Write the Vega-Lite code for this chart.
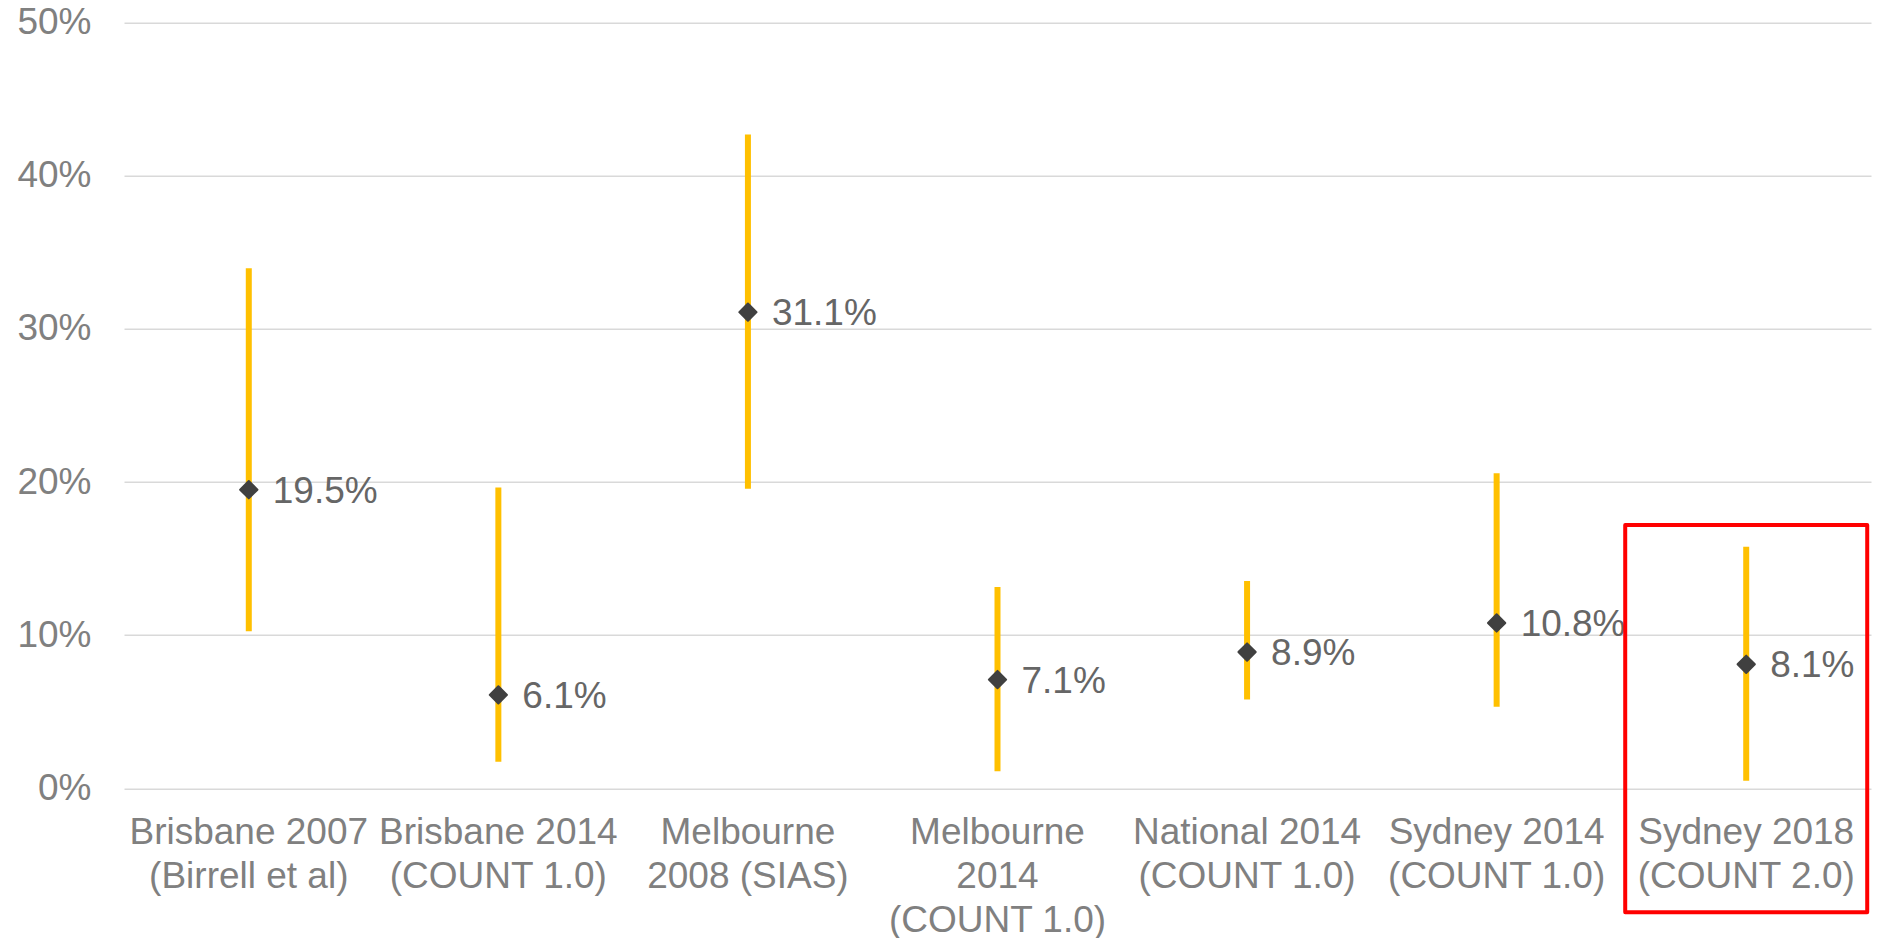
{
  "$schema": "https://vega.github.io/schema/vega-lite/v6.json",
  "width": 1747,
  "height": 765.6,
  "autosize": {"type": "none"},
  "padding": {"left": 124, "top": 22.7, "right": 7, "bottom": 150},
  "background": "white",
  "config": {"view": {"stroke": null}, "font": "Liberation Sans"},
  "data": {
    "values": [
      {"study": "Brisbane 2007|(Birrell et al)", "est": 0.195, "lo": 0.1026, "hi": 0.3396},
      {"study": "Brisbane 2014|(COUNT 1.0)", "est": 0.061, "lo": 0.0174, "hi": 0.1964},
      {"study": "Melbourne|2008 (SIAS)", "est": 0.311, "lo": 0.1957, "hi": 0.427},
      {"study": "Melbourne|2014|(COUNT 1.0)", "est": 0.071, "lo": 0.0111, "hi": 0.1315},
      {"study": "National 2014|(COUNT 1.0)", "est": 0.089, "lo": 0.058, "hi": 0.1354},
      {"study": "Sydney 2014|(COUNT 1.0)", "est": 0.108, "lo": 0.0533, "hi": 0.2058},
      {"study": "Sydney 2018|(COUNT 2.0)", "est": 0.081, "lo": 0.005, "hi": 0.1578}
    ]
  },
  "encoding": {
    "x": {
      "field": "study",
      "type": "nominal",
      "sort": null,
      "scale": {"paddingInner": 0, "paddingOuter": 0},
      "axis": {
        "title": null,
        "labelAngle": 0,
        "domain": false,
        "ticks": false,
        "tickSize": 0,
        "grid": false,
        "labelFont": "Liberation Sans",
        "labelFontSize": 37,
        "labelColor": "#808080",
        "labelExpr": "split(datum.label, '|')",
        "labelLineHeight": 44,
        "labelBaseline": "top",
        "labelPadding": 26,
        "labelLimit": 400,
        "labelOverlap": false
      }
    }
  },
  "layer": [
    {
      "mark": {"type": "rule", "color": "#FFC000", "strokeWidth": 6, "strokeCap": "butt"},
      "encoding": {
        "y": {
          "field": "lo",
          "type": "quantitative",
          "scale": {"domain": [0, 0.5]},
          "axis": {
            "title": null,
            "format": ".0%",
            "values": [0, 0.1, 0.2, 0.3, 0.4, 0.5],
            "grid": true,
            "gridColor": "#D9D9D9",
            "gridWidth": 1.5,
            "domain": false,
            "ticks": false,
            "tickSize": 0,
            "labelFont": "Liberation Sans",
            "labelFontSize": 37,
            "labelColor": "#808080",
            "labelPadding": 33
          }
        },
        "y2": {"field": "hi"}
      }
    },
    {
      "mark": {"type": "point", "shape": "diamond", "filled": true, "size": 300, "color": "#404040", "stroke": "#404040", "strokeWidth": 2, "strokeJoin": "round", "opacity": 1},
      "encoding": {
        "y": {"field": "est", "type": "quantitative", "title": null}
      }
    },
    {
      "mark": {"type": "text", "align": "left", "baseline": "middle", "dx": 24, "dy": 2, "fontSize": 37, "font": "Liberation Sans", "color": "#666666"},
      "encoding": {
        "y": {"field": "est", "type": "quantitative", "title": null},
        "text": {"field": "est", "type": "quantitative", "format": ".1%"}
      }
    },
    {
      "data": {"values": [{"study": "Sydney 2018|(COUNT 2.0)"}]},
      "mark": {"type": "bar", "width": 242, "fill": "#FFFFFF", "fillOpacity": 0, "stroke": "#FF0000", "strokeWidth": 4, "strokeJoin": "round"},
      "encoding": {
        "y": {"datum": 0.172, "type": "quantitative"},
        "y2": {"datum": -0.081}
      }
    }
  ]
}
